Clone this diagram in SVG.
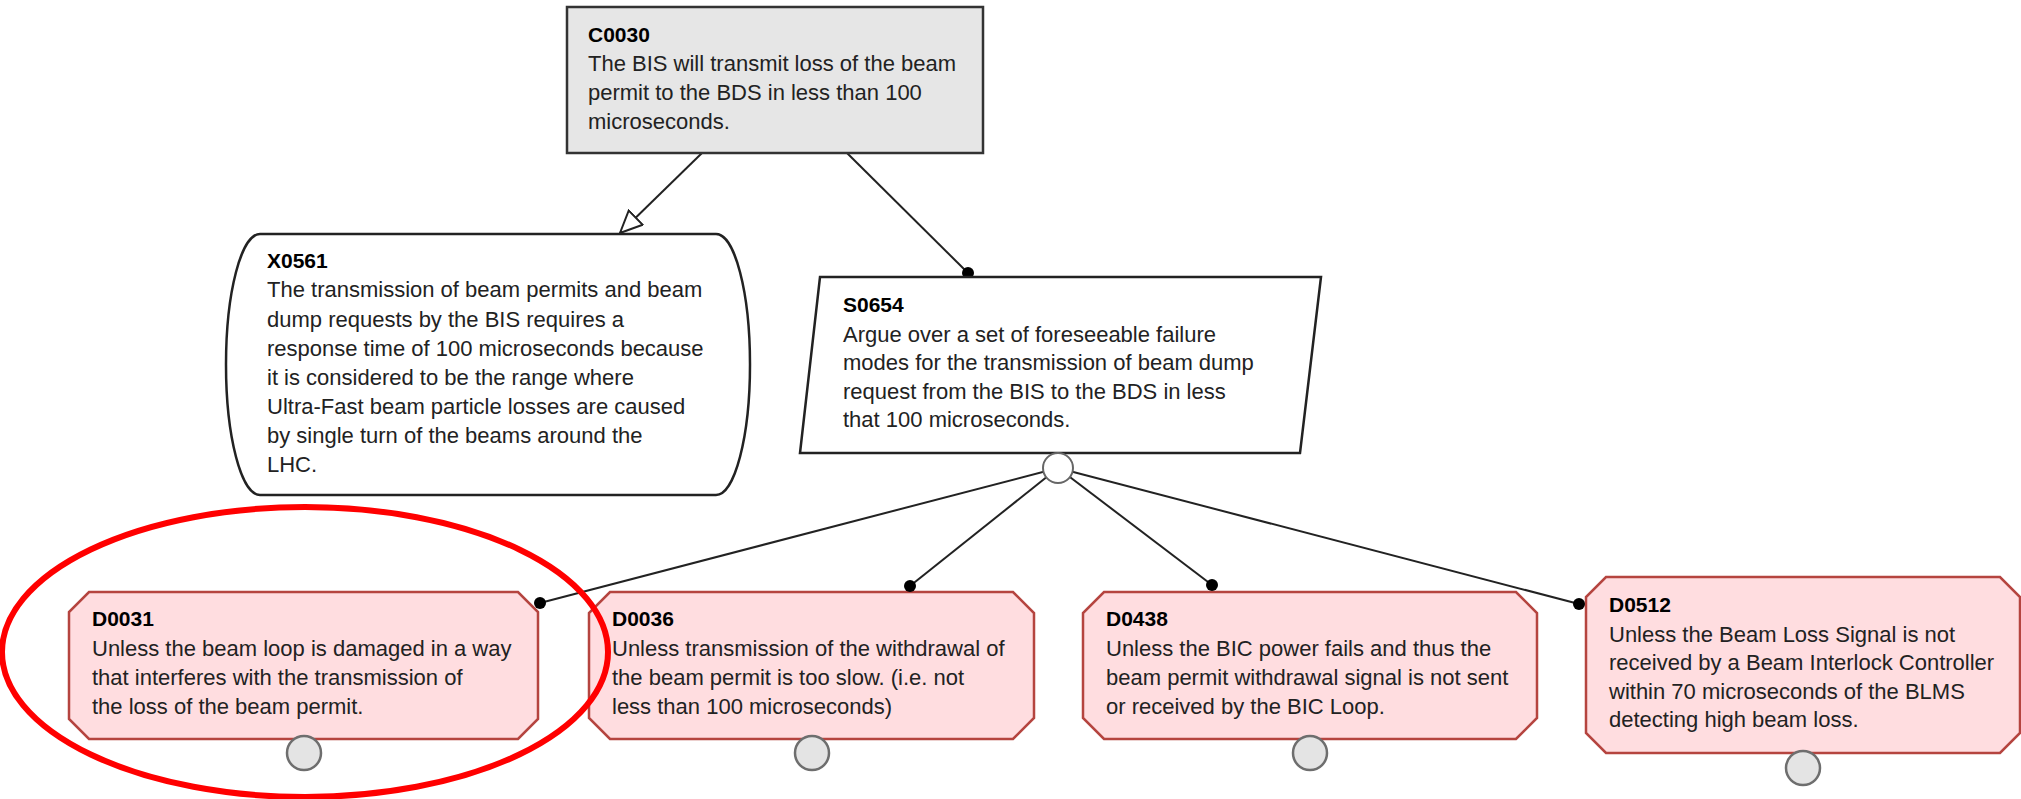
<svg xmlns="http://www.w3.org/2000/svg" width="2021" height="799" viewBox="0 0 2021 799">
  <style>
    text { font-family: "Liberation Sans", Arial, sans-serif; }
    .title { font-size: 21px; font-weight: bold; fill: #000; }
    .body { font-size: 22px; fill: #222; }
    .edge { stroke: #222; stroke-width: 2; fill: none; }
    .dot { fill: #000; }
    .goal { fill: #e6e6e6; stroke: #333; stroke-width: 2.5; }
    .context { fill: #fff; stroke: #222; stroke-width: 2.5; }
    .strategy { fill: #fff; stroke: #222; stroke-width: 2.5; }
    .defeater { fill: #ffdde0; stroke: #b5443f; stroke-width: 2.5; }
    .undev { fill: #e4e4e4; stroke: #6e6e6e; stroke-width: 2.5; }
    .join { fill: #fff; stroke: #666; stroke-width: 2; }
    .highlight { fill: none; stroke: #f00; stroke-width: 6; }
  </style>
  <defs>
    <marker id="open-arrow" markerUnits="userSpaceOnUse" markerWidth="24" markerHeight="22" viewBox="-1 -1 24 22" refX="22" refY="10" orient="auto">
      <path d="M0,0 L22,10 L0,20 Z" fill="#fff" stroke="#222" stroke-width="2"/>
    </marker>
  </defs>

  <!-- connectors -->
  <g id="connectors">
    <line class="edge" x1="702" y1="153" x2="620" y2="233" marker-end="url(#open-arrow)"/>
    <line class="edge" x1="847" y1="153" x2="968" y2="273"/>
    <circle class="dot" cx="968" cy="273" r="6"/>
    <line class="edge" x1="1058" y1="468" x2="540" y2="603"/>
    <line class="edge" x1="1058" y1="468" x2="910" y2="586"/>
    <line class="edge" x1="1058" y1="468" x2="1212" y2="585"/>
    <line class="edge" x1="1058" y1="468" x2="1579" y2="604"/>
  </g>

  <!-- claim -->
  <g id="C0030">
    <rect class="goal" x="567" y="7" width="416" height="146"/>
    <text class="title" x="588" y="42">C0030</text>
    <text class="body" x="588" y="71">The BIS will transmit loss of the beam</text>
    <text class="body" x="588" y="100">permit to the BDS in less than 100</text>
    <text class="body" x="588" y="129">microseconds.</text>
  </g>

  <!-- context -->
  <g id="X0561">
    <path class="context" d="M260 234 H716 A34 130.5 0 0 1 716 495 H260 A34 130.5 0 0 1 260 234 Z"/>
    <text class="title" x="267" y="268">X0561</text>
    <text class="body" x="267" y="297">The transmission of beam permits and beam</text>
    <text class="body" x="267" y="327">dump requests by the BIS requires a</text>
    <text class="body" x="267" y="356">response time of 100 microseconds because</text>
    <text class="body" x="267" y="385">it is considered to be the range where</text>
    <text class="body" x="267" y="414">Ultra-Fast beam particle losses are caused</text>
    <text class="body" x="267" y="443">by single turn of the beams around the</text>
    <text class="body" x="267" y="472">LHC.</text>
  </g>

  <!-- strategy -->
  <g id="S0654">
    <polygon class="strategy" points="820,277 1321,277 1300,453 800,453"/>
    <text class="title" x="843" y="312">S0654</text>
    <text class="body" x="843" y="342">Argue over a set of foreseeable failure</text>
    <text class="body" x="843" y="370">modes for the transmission of beam dump</text>
    <text class="body" x="843" y="399">request from the BIS to the BDS in less</text>
    <text class="body" x="843" y="427">that 100 microseconds.</text>
    <circle class="join" cx="1058" cy="468" r="15"/>
  </g>

  <!-- defeaters -->
  <g id="D0031">
    <polygon class="defeater" points="89,592 518,592 538,612 538,719 518,739 89,739 69,719 69,612"/>
    <text class="title" x="92" y="626">D0031</text>
    <text class="body" x="92" y="656">Unless the beam loop is damaged in a way</text>
    <text class="body" x="92" y="685">that interferes with the transmission of</text>
    <text class="body" x="92" y="714">the loss of the beam permit.</text>
    <circle class="undev" cx="304" cy="753" r="17"/>
    <circle class="dot" cx="540" cy="603" r="6"/>
  </g>

  <g id="D0036">
    <polygon class="defeater" points="610,592 1013,592 1034,613 1034,718 1013,739 610,739 589,718 589,613"/>
    <text class="title" x="612" y="626">D0036</text>
    <text class="body" x="612" y="656">Unless transmission of the withdrawal of</text>
    <text class="body" x="612" y="685">the beam permit is too slow. (i.e. not</text>
    <text class="body" x="612" y="714">less than 100 microseconds)</text>
    <circle class="undev" cx="812" cy="753" r="17"/>
    <circle class="dot" cx="910" cy="586" r="6"/>
  </g>

  <g id="D0438">
    <polygon class="defeater" points="1104,592 1516,592 1537,613 1537,718 1516,739 1104,739 1083,718 1083,613"/>
    <text class="title" x="1106" y="626">D0438</text>
    <text class="body" x="1106" y="656">Unless the BIC power fails and thus the</text>
    <text class="body" x="1106" y="685">beam permit withdrawal signal is not sent</text>
    <text class="body" x="1106" y="714">or received by the BIC Loop.</text>
    <circle class="undev" cx="1310" cy="753" r="17"/>
    <circle class="dot" cx="1212" cy="585" r="6"/>
  </g>

  <g id="D0512">
    <polygon class="defeater" points="1606,577 2000,577 2020,597 2020,733 2000,753 1606,753 1586,733 1586,597"/>
    <text class="title" x="1609" y="612">D0512</text>
    <text class="body" x="1609" y="642">Unless the Beam Loss Signal is not</text>
    <text class="body" x="1609" y="670">received by a Beam Interlock Controller</text>
    <text class="body" x="1609" y="699">within 70 microseconds of the BLMS</text>
    <text class="body" x="1609" y="727">detecting high beam loss.</text>
    <circle class="undev" cx="1803" cy="768" r="17"/>
    <circle class="dot" cx="1579" cy="604" r="6"/>
  </g>

  <!-- emphasis ring around D0031 -->
  <ellipse class="highlight" cx="305" cy="652" rx="303" ry="145"/>
</svg>
